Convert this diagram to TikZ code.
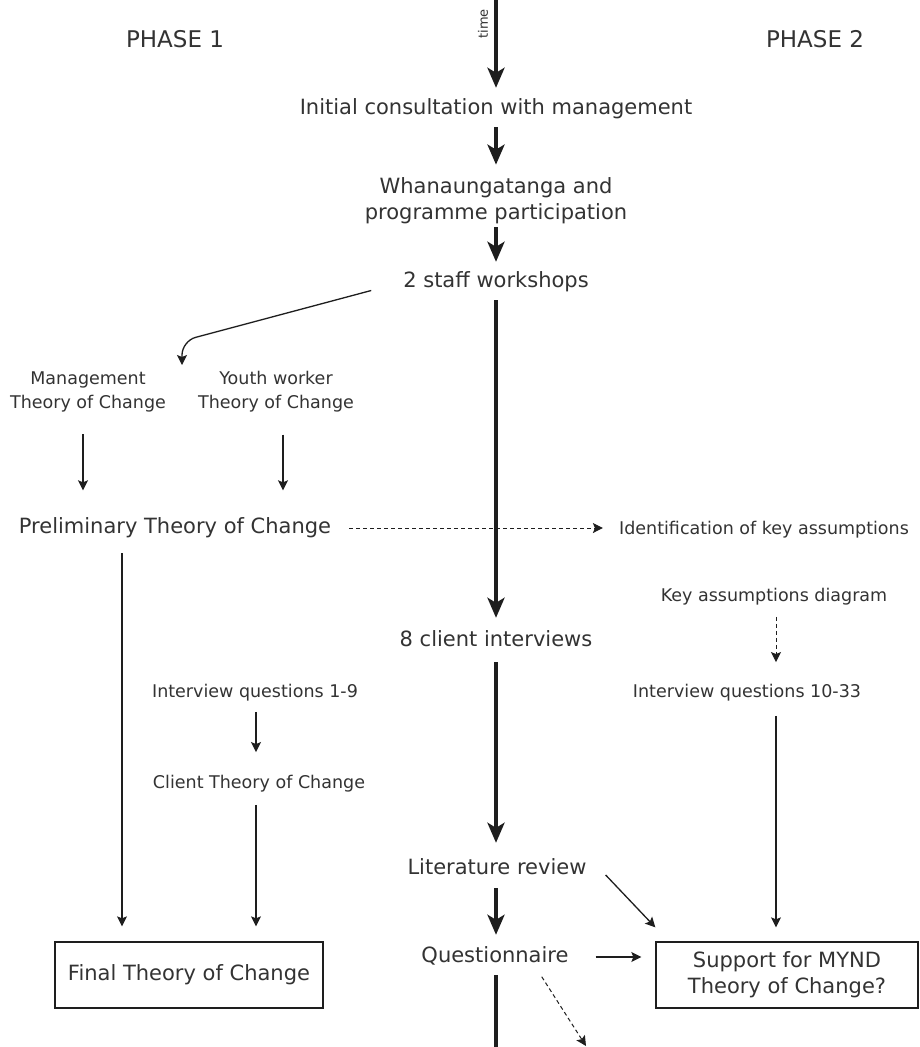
\documentclass[tikz,border=0pt]{standalone}
\usepackage{fontspec}
\setmainfont{DejaVu Sans}
\usetikzlibrary{arrows.meta}
\definecolor{ink}{HTML}{333333}
\definecolor{linec}{HTML}{1E1E1E}

\begin{document}
\begin{tikzpicture}[x=1pt,y=-1pt,
  every node/.style={inner sep=0pt, text=ink},
  bigone/.style={font=\fontsize{21}{26}\selectfont, text height=16pt, text depth=5pt},
  bigtwo/.style={font=\fontsize{21}{26}\selectfont, align=center},
  medone/.style={font=\fontsize{17.5}{24}\selectfont, text height=13.3pt, text depth=4.2pt},
  medtwo/.style={font=\fontsize{17.5}{24}\selectfont, align=center},
  phase/.style={font=\fontsize{23}{28}\selectfont, text height=17pt, text depth=0pt},
  tiny/.style={font=\fontsize{13}{15}\selectfont, rotate=90},
  boxed/.style={draw=linec, line width=1.3pt, minimum height=66pt},
  mainline/.style={draw=linec, line width=4pt},
  mainflow/.style={mainline, -{Stealth[length=20pt,width=17pt,inset=5pt]}},
  flow/.style={draw=linec, line width=1.3pt, -{Stealth[length=10pt,width=10pt,inset=2pt]}},
  hint/.style={flow, line width=1pt, dash pattern=on 4pt off 3pt},
]
\useasboundingbox (0,0) rectangle (920,1047);
\fill[white] (0,0) rectangle (920,1047);

% column headings and time axis label
\node[phase] (phaseA) at (175,39) {PHASE 1};
\node[phase] (phaseB) at (815,39) {PHASE 2};
\node[tiny] (timelbl) at (483,24) {time};

% guide coordinates for the vertical connectors
\coordinate (topend) at (496,0);
\coordinate (botend) at (496,1047);
\coordinate (colA) at (122,0);
\coordinate (colB) at (256,0);
\coordinate (colM) at (83,0);
\coordinate (colY) at (283,0);
\coordinate (colR) at (776,0);
\coordinate (elbow) at (182,341);
\coordinate (split) at (182,365);

% main timeline
\node[bigone] (init) at (496,109) {Initial consultation with management};
\node[bigtwo] (whana) at (496,201) {Whanaungatanga and\\programme participation};
\node[bigone] (staff) at (496,282) {2 staff workshops};
\node[bigone] (interv) at (496,641) {8 client interviews};
\node[bigone] (lit) at (497,869) {Literature review};
\node[bigone] (quest) at (495,957) {Questionnaire};

% phase 1 column
\node[medtwo] (mgmt) at (88,392) {Management\\Theory of Change};
\node[medtwo] (youth) at (276,392) {Youth worker\\Theory of Change};
\node[bigone] (prelim) at (175,528) {Preliminary Theory of Change};
\node[medone] (iqA) at (255,693) {Interview questions 1-9};
\node[medone] (client) at (259,784) {Client Theory of Change};
\node[bigtwo, boxed, minimum width=268pt] (final) at (189,975) {Final Theory of Change};

% phase 2 column
\node[medone] (ident) at (764,530) {Identification of key assumptions};
\node[medone] (keyd) at (774,597) {Key assumptions diagram};
\node[medone] (iqB) at (747,693) {Interview questions 10-33};
\node[bigtwo, boxed, minimum width=262pt] (support) at (787,975) {Support for MYND\\Theory of Change?};

% timeline arrows
\draw[mainflow, shorten >=10.5pt] (topend) -- (init.north -| topend);
\draw[mainflow, shorten <=7.5pt, shorten >=13pt] (init.south -| topend) -- (whana.north -| topend);
\draw[mainflow, shorten <=3pt, shorten >=9.5pt] (whana.south -| topend) -- (staff.north -| topend);
\draw[mainflow, shorten <=7.5pt, shorten >=12.5pt] (staff.south -| topend) -- (interv.north -| topend);
\draw[mainflow, shorten <=10.5pt, shorten >=15.5pt] (interv.south -| topend) -- (lit.north -| topend);
\draw[mainflow, shorten <=8.5pt, shorten >=11.5pt] (lit.south -| topend) -- (quest.north -| topend);
\draw[mainline, shorten <=7.5pt] (quest.south -| topend) -- (botend);

% workshops split into the two theories of change
\draw[flow, rounded corners=14pt, shorten <=33pt] (staff.west) -- (elbow) -- (split);
\draw[flow, shorten <=22pt, shorten >=27pt] (mgmt.south -| colM) -- (prelim.north -| colM);
\draw[flow, shorten <=22pt, shorten >=27pt] (youth.south -| colY) -- (prelim.north -| colY);

% phase 1 flow
\draw[flow, shorten <=14.5pt, shorten >=15pt] (prelim.south -| colA) -- (final.north -| colA);
\draw[flow, shorten <=10pt, shorten >=23pt] (iqA.south -| colB) -- (client.north -| colB);
\draw[flow, shorten <=12pt, shorten >=15pt] (client.south -| colB) -- (final.north -| colB);

% phase 2 flow
\draw[hint, shorten <=18pt, shorten >=16pt] (prelim.east) -- (ident.west |- prelim.east);
\draw[hint, shorten <=11pt, shorten >=22pt] (keyd.south -| colR) -- (iqB.north -| colR);
\draw[flow, shorten <=14pt, shorten >=14pt] (iqB.south -| colR) -- (support.north -| colR);
\draw[flow] ([shift={(19,6)}]lit.east) -- ([shift={(0,-14)}]support.north west);
\draw[flow, shorten <=27pt, shorten >=14pt] (quest.east) -- (support.west |- quest.east);
\draw[hint] ([shift={(-27,9)}]quest.south east) -- ([shift={(91,89)}]quest.center);
\end{tikzpicture}
\end{document}
